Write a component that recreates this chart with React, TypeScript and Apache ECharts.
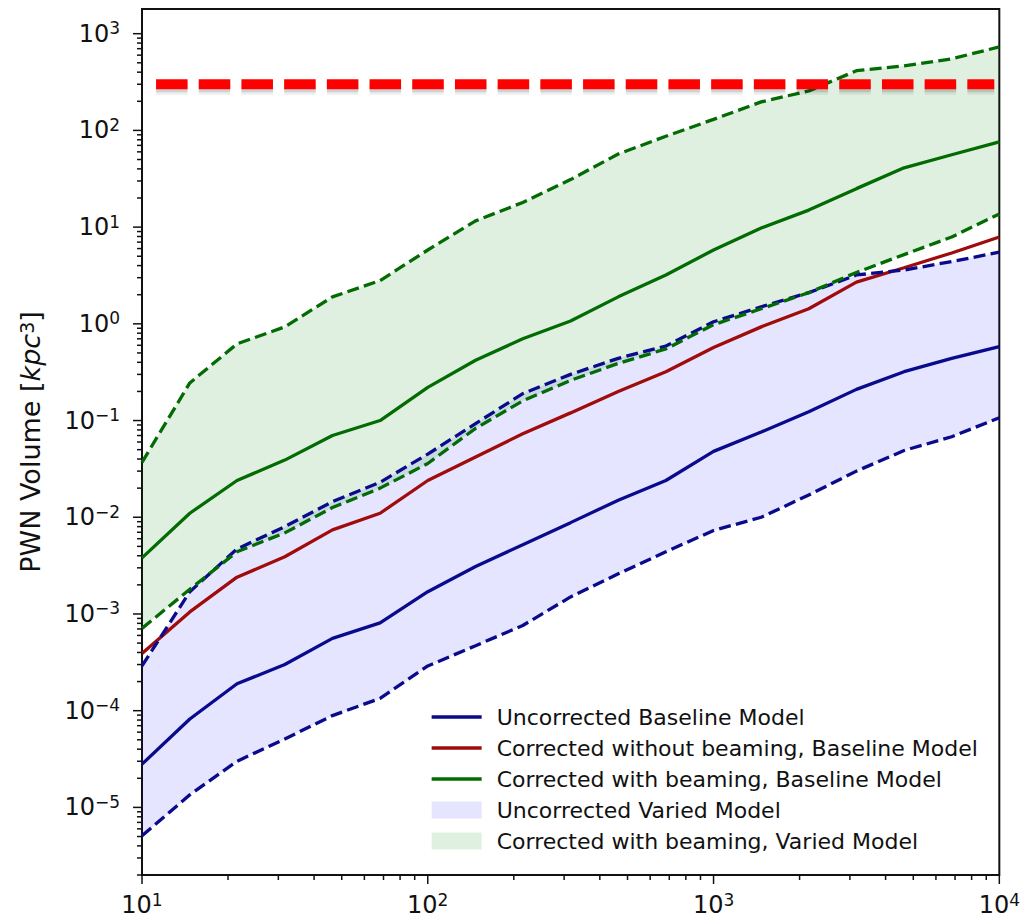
import React, { useEffect, useRef } from 'react';
import * as echarts from 'echarts';

// Number of sources (x axis), log-spaced sample points
const sampleX = [10, 14.7, 21.5, 31.6, 46.4, 68.1, 100, 147, 215, 316, 464, 681, 1000, 1468, 2154, 3162, 4642, 6813, 10000];

// Baseline model lines (PWN volume, kpc^3)
const uncorrectedBaseline = [2.8e-5, 8.2e-5, 1.9e-4, 3.0e-4, 5.6e-4, 8.1e-4, 1.7e-3, 3.1e-3, 5.2e-3, 8.8e-3, 0.015, 0.024, 0.048, 0.076, 0.123, 0.21, 0.32, 0.44, 0.58];
const correctedNoBeamingBaseline = [3.9e-4, 1.05e-3, 2.4e-3, 3.9e-3, 7.4e-3, 0.011, 0.024, 0.042, 0.073, 0.12, 0.2, 0.32, 0.57, 0.93, 1.43, 2.7, 3.8, 5.4, 7.9];
const correctedBeamingBaseline = [0.0038, 0.011, 0.024, 0.039, 0.07, 0.1, 0.22, 0.42, 0.7, 1.07, 1.9, 3.2, 5.8, 9.8, 15, 25, 41, 56, 76];

// Varied model bands (lower / upper dashed edges)
const uncorrectedVariedLow = [5.1e-6, 1.35e-5, 3.0e-5, 5.1e-5, 8.9e-5, 1.34e-4, 2.9e-4, 4.7e-4, 7.6e-4, 1.5e-3, 2.6e-3, 4.4e-3, 7.3e-3, 0.01, 0.017, 0.03, 0.049, 0.068, 0.107];
const uncorrectedVariedHigh = [2.9e-4, 1.7e-3, 4.7e-3, 8.0e-3, 0.0145, 0.023, 0.045, 0.093, 0.19, 0.3, 0.44, 0.59, 1.05, 1.5, 2.1, 3.2, 3.6, 4.4, 5.5];
const correctedBeamingVariedLow = [7.1e-4, 1.8e-3, 4.4e-3, 6.9e-3, 0.0126, 0.02, 0.036, 0.083, 0.16, 0.26, 0.39, 0.55, 0.98, 1.43, 2.1, 3.4, 5.2, 7.9, 13.7];
const correctedBeamingVariedHigh = [0.037, 0.245, 0.62, 0.93, 1.9, 2.8, 5.8, 11.6, 18, 31, 57, 87, 130, 197, 256, 414, 465, 550, 730];

// Horizontal limit (red dashed)
const limitX = [11.2, 9600];
const limitValue = 300;

// Axis ranges
const X_MIN = 10;
const X_MAX = 10000;
const Y_MIN = 2e-6;
const Y_MAX = 1800;

const legendNames = [
  'Uncorrected Baseline Model',
  'Corrected without beaming, Baseline Model',
  'Corrected with beaming, Baseline Model',
  'Uncorrected Varied Model',
  'Corrected with beaming, Varied Model',
];

const FONT = 'DejaVu Sans';
const BLUE = '#0a0a8c';
const RED = '#a00c0c';
const GREEN = '#036b03';
const BLUE_FILL = 'rgba(0,0,255,0.1)';
const GREEN_FILL = 'rgba(0,128,0,0.12)';
const LIMIT_DASH = [31.5, 11.2];

const pairs = (ys: number[]) => sampleX.map((x, i) => [x, ys[i]]);

const powLabel = (v: number) => {
  const e = Math.log10(v);
  const r = Math.round(e);
  if (Math.abs(e - r) > 1e-6) return '';
  const sup = r < 0 ? '\u2212' + -r : String(r);
  return `{b|10}{s|${sup}}`;
};

const tickRich = {
  b: { fontSize: 24, fontFamily: FONT, color: '#111', lineHeight: 28 },
  s: { fontSize: 17, fontFamily: FONT, color: '#111', verticalAlign: 'top', lineHeight: 18 },
};

// tick positions
const majorY: number[] = [];
for (let e = -5; e <= 3; e++) majorY.push(Math.pow(10, e));
const minorY: number[] = [];
for (let e = -6; e <= 3; e++) for (let m = 2; m <= 9; m++) {
  const v = m * Math.pow(10, e);
  if (v >= Y_MIN * 0.999 && v <= Y_MAX) minorY.push(v);
}
const majorX: number[] = [10, 100, 1000, 10000];
const minorX: number[] = [];
for (let e = 1; e <= 3; e++) for (let m = 2; m <= 9; m++) minorX.push(m * Math.pow(10, e));

const bandSeries = (name: string, low: number[], high: number[], fill: string, z: number) => ({
  type: 'custom',
  name,
  coordinateSystem: 'cartesian2d',
  silent: true,
  z,
  itemStyle: { color: fill },
  data: [[sampleX[0], low[0]]],
  renderItem: (_p: any, api: any) => {
    const pts: number[][] = [];
    for (let i = 0; i < sampleX.length; i++) pts.push(api.coord([sampleX[i], high[i]]));
    for (let i = sampleX.length - 1; i >= 0; i--) pts.push(api.coord([sampleX[i], low[i]]));
    return { type: 'polygon', shape: { points: pts }, style: { fill, stroke: 'none' } };
  },
});

const lineSeries = (name: string, ys: number[], color: string, dashed: boolean) => ({
  type: 'line',
  name,
  data: pairs(ys),
  symbol: 'none',
  smooth: false,
  z: 3,
  silent: true,
  itemStyle: { color },
  lineStyle: { color, width: 3.3, type: dashed ? [12, 5.3] : 'solid' },
});

const tickSeries = (data: number[][], axis: 'x' | 'y') => ({
  type: 'custom',
  coordinateSystem: 'cartesian2d',
  silent: true,
  clip: false,
  z: 6,
  data,
  renderItem: (_p: any, api: any) => {
    const pt = api.coord([api.value(0), api.value(1)]);
    const len = api.value(2);
    const shape = axis === 'y'
      ? { x1: pt[0] - len, y1: pt[1], x2: pt[0], y2: pt[1] }
      : { x1: pt[0], y1: pt[1], x2: pt[0], y2: pt[1] + len };
    return { type: 'line', shape, style: { stroke: '#111', lineWidth: 1.5 } };
  },
});

const limitSeries = {
  type: 'custom',
  name: 'Limit',
  coordinateSystem: 'cartesian2d',
  silent: true,
  z: 5,
  data: [[limitX[0], limitValue, limitX[1]]],
  renderItem: (_p: any, api: any) => {
    const a = api.coord([api.value(0), api.value(1)]);
    const b = api.coord([api.value(2), api.value(1)]);
    return {
      type: 'group',
      children: [
        { type: 'line', shape: { x1: a[0], y1: a[1] + 4, x2: b[0], y2: b[1] + 4 }, style: { stroke: 'rgba(0,0,0,0.07)', lineWidth: 13, lineDash: LIMIT_DASH } },
        { type: 'line', shape: { x1: a[0], y1: a[1] + 3, x2: b[0], y2: b[1] + 3 }, style: { stroke: 'rgba(0,0,0,0.12)', lineWidth: 10, lineDash: LIMIT_DASH } },
        { type: 'line', shape: { x1: a[0], y1: a[1], x2: b[0], y2: b[1] }, style: { stroke: '#ff0000', lineWidth: 10, lineDash: LIMIT_DASH } },
      ],
    };
  },
};

const option: any = {
  animation: false,
  backgroundColor: '#ffffff',
  grid: { left: 142, right: 20, top: 9, bottom: 44, show: true, borderColor: '#111', borderWidth: 2, backgroundColor: 'transparent' },
  xAxis: {
    type: 'log',
    logBase: 10,
    min: X_MIN,
    max: X_MAX,
    axisLine: { show: false },
    axisTick: { show: false },
    splitLine: { show: false },
    axisLabel: { formatter: powLabel, margin: 16, rich: tickRich, showMinLabel: true, showMaxLabel: true },
  },
  yAxis: {
    type: 'log',
    logBase: 10,
    min: Y_MIN,
    max: Y_MAX,
    axisLine: { show: false },
    axisTick: { show: false },
    splitLine: { show: false },
    axisLabel: { formatter: powLabel, margin: 22, rich: tickRich },
    name: '{n|PWN Volume [}{i|kpc}{s|3}{n|]}',
    nameLocation: 'middle',
    nameGap: 98,
    nameRotate: 90,
    nameTextStyle: {
      rich: {
        n: { fontSize: 27, fontFamily: FONT, color: '#111' },
        i: { fontSize: 27, fontFamily: FONT, fontStyle: 'italic', color: '#111' },
        s: { fontSize: 19, fontFamily: FONT, color: '#111', verticalAlign: 'top' },
      },
    },
  },
  legend: {
    orient: 'vertical',
    left: 430,
    top: 706,
    padding: 0,
    itemWidth: 50,
    itemHeight: 17,
    itemGap: 9,
    selectedMode: false,
    lineStyle: { width: 3.3 },
    textStyle: { fontSize: 22, fontFamily: FONT, color: '#111', padding: [0, 0, 0, 10] },
    data: [
      { name: legendNames[0], itemStyle: { opacity: 0 } },
      { name: legendNames[1], itemStyle: { opacity: 0 } },
      { name: legendNames[2], itemStyle: { opacity: 0 } },
      { name: legendNames[3], icon: 'rect' },
      { name: legendNames[4], icon: 'rect' },
    ],
  },
  series: [
    bandSeries(legendNames[3], uncorrectedVariedLow, uncorrectedVariedHigh, BLUE_FILL, 1),
    bandSeries(legendNames[4], correctedBeamingVariedLow, correctedBeamingVariedHigh, GREEN_FILL, 1),
    lineSeries(legendNames[0], uncorrectedBaseline, BLUE, false),
    lineSeries(legendNames[1], correctedNoBeamingBaseline, RED, false),
    lineSeries(legendNames[2], correctedBeamingBaseline, GREEN, false),
    lineSeries('Uncorrected Varied low', uncorrectedVariedLow, BLUE, true),
    lineSeries('Uncorrected Varied high', uncorrectedVariedHigh, BLUE, true),
    lineSeries('Corrected beaming Varied low', correctedBeamingVariedLow, GREEN, true),
    lineSeries('Corrected beaming Varied high', correctedBeamingVariedHigh, GREEN, true),
    limitSeries,
    tickSeries([...majorY.map((v) => [X_MIN, v, 9]), ...minorY.map((v) => [X_MIN, v, 5])], 'y'),
    tickSeries([...majorX.map((v) => [v, Y_MIN, 9]), ...minorX.map((v) => [v, Y_MIN, 5])], 'x'),
  ],
};

export default function App() {
  const ref = useRef<HTMLDivElement>(null);
  useEffect(() => {
    if (!ref.current) return;
    const chart = echarts.init(ref.current, null, { renderer: 'svg' });
    chart.setOption(option);
    return () => chart.dispose();
  }, []);
  return (
    <div
      ref={ref}
      style={{ position: 'fixed', left: 0, top: 0, width: 1023, height: 919, background: '#fff' }}
    />
  );
}
